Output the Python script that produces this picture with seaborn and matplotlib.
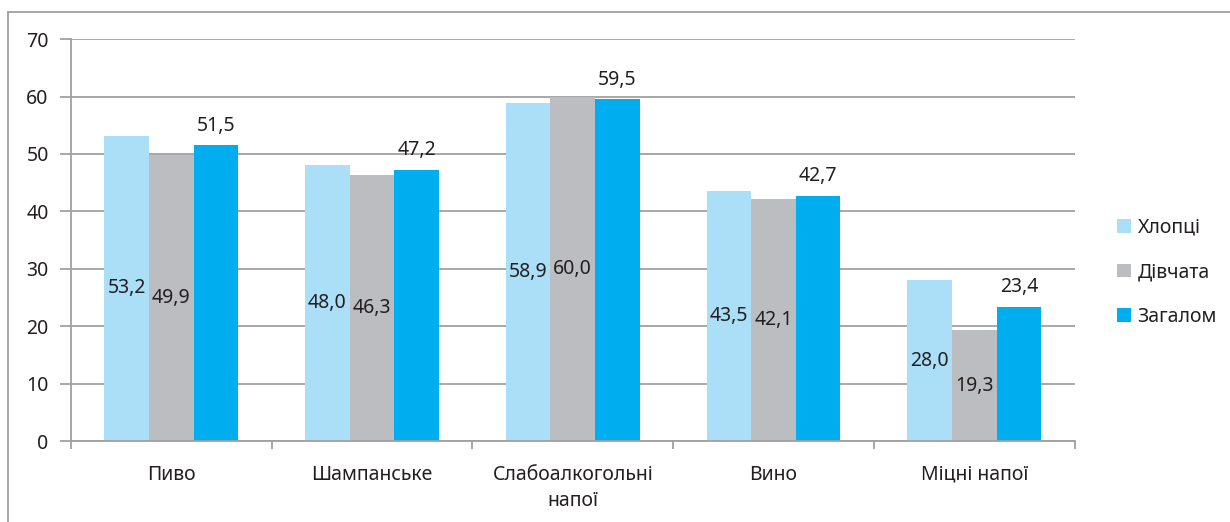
import pandas as pd
import matplotlib.pyplot as plt
import seaborn as sns
from matplotlib.lines import Line2D
from matplotlib.patches import Patch

# Дані з діаграми
categories = ['Пиво', 'Шампанське', 'Слабоалкогольні\nнапої', 'Вино', 'Міцні напої']
groups = ['Хлопці', 'Дівчата', 'Загалом']
boys = [53.2, 48.0, 58.9, 43.5, 28.0]
girls = [49.9, 46.3, 60.0, 42.1, 19.3]
total = [51.5, 47.2, 59.5, 42.7, 23.4]
yticks = [0, 10, 20, 30, 40, 50, 60, 70]

colors = ['#ABDFF8', '#BCBDC0', '#00AEEF']
grid_color = '#A0A0A0'
text_color = '#231F20'
fs = 14

sns.set_theme(style="white")
plt.rcParams['font.family'] = ['Noto Sans', 'DejaVu Sans']

df = pd.DataFrame({
    'Категорія': categories * 3,
    'Група': [groups[0]] * 5 + [groups[1]] * 5 + [groups[2]] * 5,
    'Значення': boys + girls + total,
})

fig = plt.figure(figsize=(12.3, 5.22), dpi=100)
ax = fig.add_axes([0.0577, 0.155, 0.816, 0.77])

sns.barplot(data=df, x='Категорія', y='Значення', hue='Група', hue_order=groups,
            palette=colors, width=0.667, dodge=True, saturation=1, linewidth=0,
            legend=False, ax=ax)

ax.set_axisbelow(True)
ax.set_ylim(0, 70)
ax.set_xlim(-0.5, len(categories) - 0.5)
ax.set_yticks(yticks)
ax.set_yticklabels([str(t) for t in yticks], fontsize=fs, color=text_color)
ax.yaxis.grid(True, color=grid_color, linewidth=1.3)
ax.set_xlabel('')
ax.set_ylabel('')

for side in ['top', 'right']:
    ax.spines[side].set_visible(False)
for side in ['left', 'bottom']:
    ax.spines[side].set_color(grid_color)
    ax.spines[side].set_linewidth(1.3)

ax.tick_params(axis='y', which='major', left=True, length=8, width=1.3,
               color=grid_color, pad=8)
ax.tick_params(axis='x', which='major', bottom=False, labelsize=fs,
               labelcolor=text_color, pad=11)
for lbl in ax.get_xticklabels():
    lbl.set_linespacing(1.45)
ax.set_xticks([i - 0.5 for i in range(len(categories) + 1)], minor=True)
ax.tick_params(axis='x', which='minor', bottom=True, length=6, width=1.3,
               color=grid_color)

# Підписи значень
for idx, cont in enumerate(ax.containers):
    labels = [f'{v:.1f}'.replace('.', ',') for v in cont.datavalues]
    if idx < 2:
        ax.bar_label(cont, labels=labels, label_type='center', fontsize=fs,
                     color=text_color)
    else:
        ax.bar_label(cont, labels=labels, padding=7, fontsize=fs, color=text_color)

handles = [Patch(facecolor=c, edgecolor='none') for c in colors]
ax.legend(handles, groups, loc='center left', bbox_to_anchor=(1.025, 0.42),
          frameon=False, fontsize=fs, labelspacing=1.25, handlelength=0.7,
          handleheight=0.7, handletextpad=0.35, labelcolor=text_color)

# Рамка
fig.add_artist(Line2D([0.0065, 0.0065], [0, 0.977], color=grid_color, linewidth=1.3))
fig.add_artist(Line2D([0.0065, 1.0], [0.977, 0.977], color=grid_color, linewidth=1.3))

fig.savefig('out.png', dpi=100)
